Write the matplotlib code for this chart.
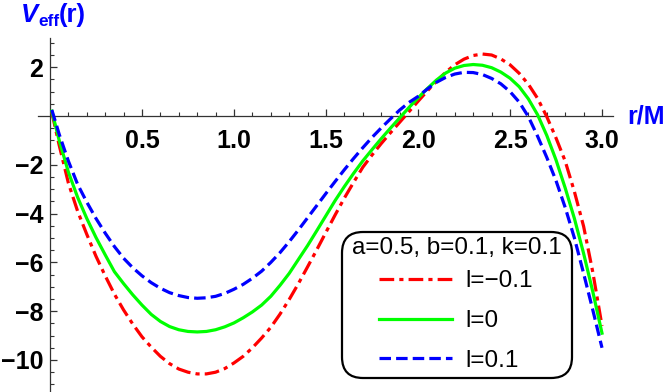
import matplotlib
matplotlib.use("Agg")
import matplotlib.pyplot as plt
from matplotlib.patches import FancyBboxPatch
from matplotlib.transforms import IdentityTransform
import numpy as np

plt.rcParams['font.family'] = ['Liberation Sans', 'DejaVu Sans']

# ---------------- data ----------------
r = [0.01, 0.05, 0.10, 0.15, 0.20, 0.25, 0.30, 0.35, 0.40, 0.45, 0.50,
     0.55, 0.60, 0.65, 0.70, 0.75, 0.80, 0.85, 0.90, 0.95, 1.00,
     1.05, 1.10, 1.15, 1.20, 1.25, 1.30, 1.35, 1.40, 1.45, 1.50,
     1.55, 1.60, 1.65, 1.70, 1.75, 1.80, 1.85, 1.90, 1.95, 2.00,
     2.05, 2.10, 2.15, 2.20, 2.25, 2.30, 2.35, 2.40, 2.45, 2.50,
     2.55, 2.60, 2.65, 2.70, 2.75, 2.80, 2.85, 2.90, 2.95, 3.00]

V_lm01 = [0.15, -1.2, -2.75, -3.9, -4.85, -5.75, -6.55, -7.3, -7.95, -8.53, -9.05,
          -9.47, -9.85, -10.15, -10.37, -10.5, -10.57, -10.57, -10.5, -10.35, -10.12,
          -9.85, -9.5, -9.1, -8.66, -8.12, -7.52, -6.87, -6.18, -5.48, -4.76,
          -4.05, -3.36, -2.72, -2.1, -1.6, -1.13, -0.69, -0.26, 0.17, 0.6,
          1.02, 1.42, 1.79, 2.1, 2.33, 2.48, 2.54, 2.5, 2.34, 2.1,
          1.75, 1.3, 0.72, -0.03, -0.9, -1.85, -3.1, -4.52, -6.4, -8.6]

V_l0 = [0.2, -1.0, -2.3, -3.33, -4.2, -4.98, -5.69, -6.38, -6.87, -7.33, -7.75,
        -8.13, -8.42, -8.63, -8.76, -8.83, -8.85, -8.83, -8.76, -8.64, -8.48,
        -8.27, -8.03, -7.75, -7.39, -6.94, -6.45, -5.88, -5.31, -4.7, -4.08,
        -3.46, -2.89, -2.35, -1.84, -1.38, -0.93, -0.5, -0.08, 0.34, 0.74,
        1.12, 1.47, 1.76, 1.96, 2.07, 2.11, 2.08, 1.98, 1.8, 1.55,
        1.2, 0.7, 0.05, -0.8, -1.8, -2.95, -4.2, -5.63, -7.2, -8.9]

V_lp01 = [0.25, -0.75, -1.85, -2.8, -3.53, -4.2, -4.8, -5.35, -5.83, -6.22, -6.55,
          -6.83, -7.06, -7.24, -7.36, -7.44, -7.47, -7.45, -7.39, -7.27, -7.1,
          -6.9, -6.65, -6.36, -6.0, -5.6, -5.15, -4.67, -4.17, -3.67, -3.17,
          -2.68, -2.2, -1.74, -1.3, -0.88, -0.49, -0.12, 0.24, 0.55, 0.8,
          1.1, 1.38, 1.58, 1.72, 1.79, 1.78, 1.7, 1.54, 1.32, 1.0,
          0.57, -0.03, -0.83, -1.7, -2.65, -3.75, -5.0, -6.45, -7.95, -9.5]

series_labels = ["l=\u22120.1", "l=0", "l=0.1"]
legend_title = "a=0.5, b=0.1, k=0.1"
xtick_vals = [0.5, 1.0, 1.5, 2.0, 2.5, 3.0]
xtick_labels = ["0.5", "1.0", "1.5", "2.0", "2.5", "3.0"]
ytick_vals = [-10, -8, -6, -4, -2, 2]
ytick_labels = ["\u221210", "\u22128", "\u22126", "\u22124", "\u22122", "2"]

# ---------------- figure ----------------
W, H = 664, 392
fig = plt.figure(figsize=(W / 100, H / 100), dpi=100)
ax = fig.add_axes([0, 0, 1, 1])

# pixel mapping: x_px = 50 + 184*r ; y_px = 116 - 24.4*V
x0px, sx = 50.0, 184.0
y0px, sy = 116.0, 24.4
ax.set_xlim(-x0px / sx, (W - x0px) / sx)
ax.set_ylim((y0px - H) / sy, y0px / sy)

lw = 2.3
ax.plot(r, V_lm01, color='#ff0000', lw=lw, dashes=(4.6, 1.6, 1.3, 1.6),
        label=series_labels[0], zorder=4)
ax.plot(r, V_l0, color='#00ff00', lw=lw, label=series_labels[1], zorder=4)
ax.plot(r, V_lp01, color='#0000ff', lw=lw, dashes=(3.6, 1.6),
        label=series_labels[2], zorder=4)

# axes through the origin
for s in ['top', 'right']:
    ax.spines[s].set_visible(False)
ax.spines['left'].set_position(('data', 0))
ax.spines['bottom'].set_position(('data', 0))
ax.spines['left'].set_bounds((y0px - H) / sy, (y0px - 38) / sy)
ax.spines['bottom'].set_bounds((38 - x0px) / sx, (613 - x0px) / sx)
for s in ['left', 'bottom']:
    ax.spines[s].set_color('#333333')
    ax.spines[s].set_linewidth(0.9)

tick_fs = 18
ax.set_xticks(xtick_vals)
ax.set_xticklabels(xtick_labels, fontweight='bold', fontsize=tick_fs)
ax.set_xticks(np.arange(0.1, 3.05, 0.1), minor=True)
ax.set_yticks(ytick_vals)
ax.set_yticklabels(ytick_labels, fontweight='bold', fontsize=tick_fs)
ax.set_yticks(np.arange(-11.0, 3.1, 0.5), minor=True)
ax.tick_params(axis='both', which='major', direction='in', length=5, width=0.9,
               color='#333333')
ax.tick_params(axis='both', which='minor', direction='in', length=3, width=0.8,
               color='#333333')
ax.tick_params(axis='x', which='major', pad=9)
ax.tick_params(axis='y', which='major', pad=5)

# axis labels (V_eff(r) assembled from three texts)
blue = '#0000ff'
renderer = fig.canvas.get_renderer()
tV = fig.text(21 / W, 1 - 22 / H, 'V', color=blue, fontsize=18.5,
              fontweight='bold', fontstyle='italic', ha='left', va='baseline')
xe = tV.get_window_extent(renderer).x1
tE = fig.text(xe / W, 1 - 26 / H, 'eff', color=blue, fontsize=12.5,
              fontweight='bold', ha='left', va='baseline')
xr = tE.get_window_extent(renderer).x1
fig.text(xr / W, 1 - 22 / H, '(r)', color=blue, fontsize=18.5,
         fontweight='bold', ha='left', va='baseline')
fig.text(627 / W, 1 - 116 / H, 'r/M', color=blue, fontsize=18,
         fontweight='bold', ha='left', va='center')

# legend: rounded frame, title and entries
leg_fs = 17.5
frame = FancyBboxPatch((342, H - 378), 230, 146,
                       boxstyle='round,pad=0,rounding_size=21',
                       facecolor='white', edgecolor='black', linewidth=1.6,
                       zorder=5)
frame.set_transform(IdentityTransform())
ax.add_patch(frame)
ax.text(457 / W, 1 - 248 / H, legend_title, transform=fig.transFigure,
        fontsize=leg_fs, ha='center', va='center', zorder=6)
leg = ax.legend(loc='center', bbox_to_anchor=(456 / W, 1 - 321 / H),
                bbox_transform=fig.transFigure, fontsize=leg_fs, frameon=False,
                handlelength=3.0, handletextpad=0.55, labelspacing=0.72,
                borderpad=0.0, borderaxespad=0)
leg.set_zorder(7)

fig.savefig('out.png', dpi=100)
